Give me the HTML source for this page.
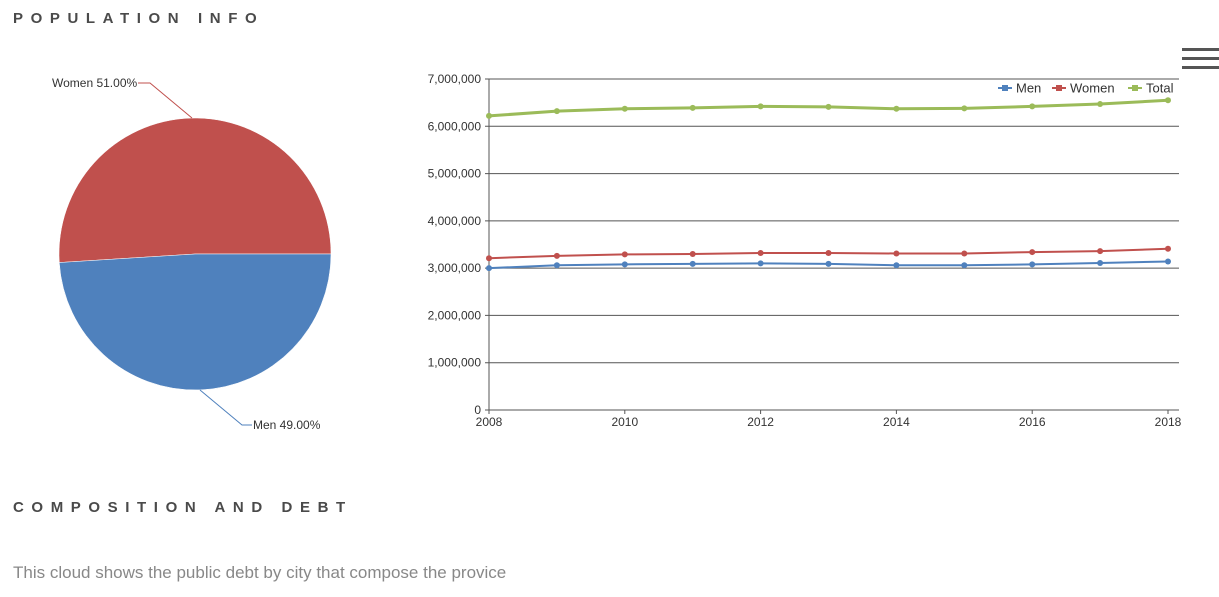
<!DOCTYPE html>
<html><head><meta charset="utf-8"><style>
body{margin:0;width:1219px;height:597px;background:#fff;font-family:"Liberation Sans",sans-serif;overflow:hidden;position:relative}
h2{position:absolute;left:13px;margin:0;font-size:15px;font-weight:bold;letter-spacing:7.6px;color:#4a4a4a}
p{position:absolute;left:13px;top:563px;margin:0;font-size:17px;color:#888}
.hb{position:absolute;left:1182px;width:37px;height:3px;background:#555}
</style></head><body>
<h2 style="top:10px">POPULATION INFO</h2>
<div class="hb" style="top:48px"></div>
<div class="hb" style="top:57px"></div>
<div class="hb" style="top:66px"></div>
<svg id="pie" width="420" height="460" style="position:absolute;left:0;top:0"></svg>
<svg id="line" width="1219" height="460" style="position:absolute;left:0;top:0"></svg>
<h2 style="top:499px">COMPOSITION AND DEBT</h2>
<p>This cloud shows the public debt by city that compose the provice</p>
<script>
const years=[2008,2009,2010,2011,2012,2013,2014,2015,2016,2017,2018];
const men=[3.00,3.06,3.08,3.09,3.10,3.09,3.06,3.06,3.08,3.11,3.14];
const women=[3.21,3.26,3.29,3.30,3.32,3.32,3.31,3.31,3.34,3.36,3.41];
const total=[6.22,6.32,6.37,6.39,6.42,6.41,6.37,6.38,6.42,6.47,6.55];
const yTicks=[0,1,2,3,4,5,6,7];
const xTicks=[2008,2010,2012,2014,2016,2018];
const pieLabels=["Women","Men"];
const pieValues=[51,49];
const NS="http://www.w3.org/2000/svg";
function mk(p,t,a){const e=document.createElementNS(NS,t);for(const k in a)e.setAttribute(k,a[k]);p.appendChild(e);return e;}
const L=document.getElementById('line');
const X=v=>489+(v-2008)*(1168-489)/10, Y=v=>410-v*(410-79)/7;
yTicks.forEach(t=>{
 const g=mk(L,'line',{x1:485,x2:1179,y1:Y(t),y2:Y(t),stroke:'#555','stroke-width':1});
 
 
 const tx=mk(L,'text',{x:481,y:Y(t)+4,'text-anchor':'end','font-size':12,fill:'#333'});
 tx.textContent=t===0?'0':(t*1000000).toLocaleString('en-US');
 
 
});
mk(L,'line',{x1:489,x2:489,y1:79,y2:414,stroke:'#555'});
xTicks.forEach(t=>{
 mk(L,'line',{x1:X(t),x2:X(t),y1:410,y2:414,stroke:'#555'});
 const tx=mk(L,'text',{x:X(t),y:426,'text-anchor':'middle','font-size':12,fill:'#333'});
 tx.textContent=t;
 
 
});
[[men,'#4f81bd',2,'men'],[women,'#c0504d',2,'women'],[total,'#9bbb59',3,'total']].forEach(([d,c,w,n])=>{
 const pl=mk(L,'polyline',{points:d.map((v,i)=>X(years[i])+','+Y(v)).join(' '),fill:'none',stroke:c,'stroke-width':w});
 
 
 d.forEach((v,i)=>{const pt=mk(L,'circle',{cx:X(years[i]),cy:Y(v),r:3,fill:c});
  
  });
});
[['Men','#4f81bd',998],['Women','#c0504d',1052],['Total','#9bbb59',1128]].forEach(([n,c,x])=>{
 const g=mk(L,'g',{});
 
 
 mk(g,'line',{x1:x,x2:x+14,y1:88,y2:88,stroke:c,'stroke-width':2});
 mk(g,'rect',{x:x+4,y:85,width:6,height:6,fill:c});
 const t=mk(g,'text',{x:x+18,y:92.5,'font-size':13,fill:'#333'});t.textContent=n;
});
const P=document.getElementById('pie');
const cx=195,cy=254,R=136;
let a0=0;const cols=['#c0504d','#4f81bd'];
pieValues.forEach((v,i)=>{
 const a1=a0+v/100*2*Math.PI;
 const p=(a)=>[cx+R*Math.cos(a),cy-R*Math.sin(a)];
 const [x0,y0]=p(a0),[x1,y1]=p(a1);
 const s=mk(P,'path',{d:`M${cx},${cy}L${x0},${y0}A${R},${R} 0 ${a1-a0>Math.PI?1:0} 0 ${x1},${y1}Z`,fill:cols[i],stroke:'#fff','stroke-width':0.5});
 
 
 a0=a1;
});
mk(P,'polyline',{points:'192,118 150,83 138,83',fill:'none',stroke:'#c0504d'});
mk(P,'polyline',{points:'200,390 242,425 252,425',fill:'none',stroke:'#4f81bd'});
const t1=mk(P,'text',{x:52,y:87,'font-size':12,fill:'#333'});t1.textContent=pieLabels[0]+' '+pieValues[0].toFixed(2)+'%';


const t2=mk(P,'text',{x:253,y:429,'font-size':12,fill:'#333'});t2.textContent=pieLabels[1]+' '+pieValues[1].toFixed(2)+'%';


</script>
</body></html>
